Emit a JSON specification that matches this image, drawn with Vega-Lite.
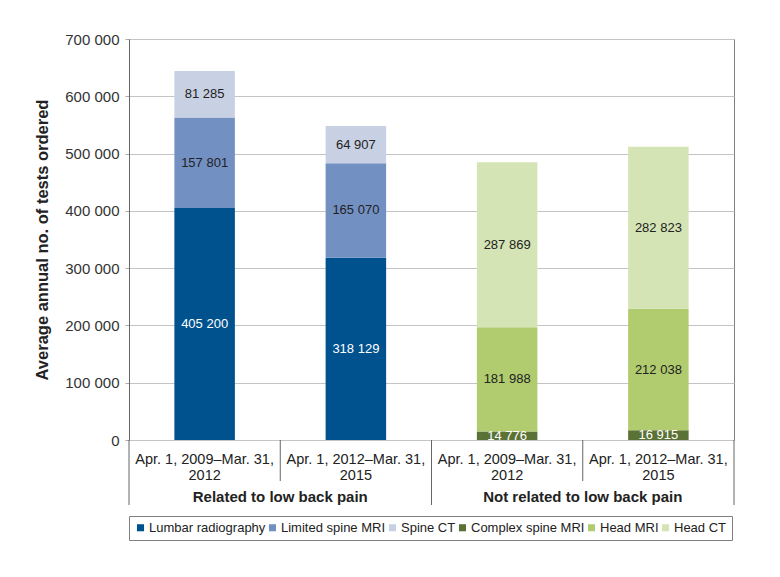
{
  "$schema": "https://vega.github.io/schema/vega-lite/v6.json",
  "background": "white",
  "padding": {"left": 34, "top": 31, "right": 10, "bottom": 10},
  "bounds": "flush",
  "config": {
    "font": "Liberation Sans",
    "locale": {"number": {"decimal": ".", "thousands": " ", "grouping": [3], "currency": ["", ""]}},
    "view": {"stroke": null},
    "concat": {"spacing": 0}
  },
  "datasets": {
    "bars": [
      {"bar": "R1", "test": "Lumbar radiography", "idx": 1, "value": 405200},
      {"bar": "R1", "test": "Limited spine MRI", "idx": 2, "value": 157801},
      {"bar": "R1", "test": "Spine CT", "idx": 3, "value": 81285},
      {"bar": "R2", "test": "Lumbar radiography", "idx": 1, "value": 318129},
      {"bar": "R2", "test": "Limited spine MRI", "idx": 2, "value": 165070},
      {"bar": "R2", "test": "Spine CT", "idx": 3, "value": 64907},
      {"bar": "N1", "test": "Complex spine MRI", "idx": 4, "value": 14776},
      {"bar": "N1", "test": "Head MRI", "idx": 5, "value": 181988},
      {"bar": "N1", "test": "Head CT", "idx": 6, "value": 287869},
      {"bar": "N2", "test": "Complex spine MRI", "idx": 4, "value": 16915},
      {"bar": "N2", "test": "Head MRI", "idx": 5, "value": 212038},
      {"bar": "N2", "test": "Head CT", "idx": 6, "value": 282823}
    ],
    "periods": [
      {"bar": "R1", "label": "Apr. 1, 2009–Mar. 31,\n2012"},
      {"bar": "R2", "label": "Apr. 1, 2012–Mar. 31,\n2015"},
      {"bar": "N1", "label": "Apr. 1, 2009–Mar. 31,\n2012"},
      {"bar": "N2", "label": "Apr. 1, 2012–Mar. 31,\n2015"}
    ],
    "groups": [
      {"bar": "R1", "group": "Related to low back pain"},
      {"bar": "N1", "group": "Not related to low back pain"}
    ]
  },
  "vconcat": [
    {
      "width": 605,
      "height": 401,
      "data": {"name": "bars"},
      "view": {"stroke": "#808080"},
      "encoding": {
        "x": {"field": "bar", "type": "nominal", "scale": {"type": "band", "domain": ["R1", "R2", "N1", "N2"], "paddingInner": 0, "paddingOuter": 0}, "axis": null}
      },
      "layer": [
        {
          "mark": {"type": "bar", "width": {"band": 0.4}},
          "encoding": {
            "y": {
              "field": "value", "type": "quantitative", "stack": "zero",
              "scale": {"domain": [0, 700000]},
              "axis": {
                "values": [0, 100000, 200000, 300000, 400000, 500000, 600000, 700000],
                "format": ",d",
                "title": "Average annual no. of tests ordered",
                "titleFontSize": 16.5, "titleFontWeight": "bold", "titleColor": "#222",
                "titlePadding": 14,
                "labelFontSize": 15, "labelColor": "#333", "labelPadding": 6,
                "tickSize": 4, "tickColor": "#aaaaaa",
                "gridColor": "#c4c4c4", "domainColor": "#666666"
              }
            },
            "color": {
              "field": "test", "type": "nominal",
              "scale": {
                "domain": ["Lumbar radiography", "Limited spine MRI", "Spine CT", "Complex spine MRI", "Head MRI", "Head CT"],
                "range": ["#00528f", "#7390c2", "#c8d0e3", "#5b7236", "#b0cc6e", "#d5e4b5"]
              },
              "legend": {
                "orient": "bottom", "direction": "horizontal", "columns": 6, "title": null,
                "symbolType": "square", "symbolSize": 50, "symbolStrokeWidth": 0,
                "labelFontSize": 13, "labelColor": "#222", "labelOffset": 2,
                "strokeColor": "#808080", "padding": 5, "columnPadding": 0, "offset": 10
              }
            },
            "order": {"field": "idx"}
          }
        },
        {
          "mark": {"type": "text", "fontSize": 13},
          "encoding": {
            "y": {"field": "value", "type": "quantitative", "stack": "zero", "bandPosition": 0.5},
            "detail": {"field": "test"},
            "order": {"field": "idx"},
            "text": {"field": "value", "type": "quantitative", "format": ",d"},
            "fill": {"condition": {"test": "datum.test === 'Lumbar radiography' || datum.test === 'Complex spine MRI'", "value": "white"}, "value": "#222222"}
          }
        }
      ]
    },
    {
      "width": 605,
      "height": 41,
      "data": {"name": "periods"},
      "layer": [
        {
          "mark": {"type": "text", "fontSize": 14.5, "lineBreak": "\n", "color": "#222", "dy": -1},
          "encoding": {
            "x": {"field": "bar", "type": "nominal", "scale": {"type": "band", "domain": ["R1", "R2", "N1", "N2"], "paddingInner": 0, "paddingOuter": 0}, "axis": null},
            "text": {"field": "label"}
          }
        },
        {
          "mark": {"type": "rule", "color": "#666666"},
          "encoding": {
            "x": {"field": "bar", "type": "nominal", "bandPosition": 0, "scale": {"type": "band", "domain": ["R1", "R2", "N1", "N2"], "paddingInner": 0, "paddingOuter": 0}, "axis": null}
          }
        },
        {
          "transform": [{"filter": "datum.bar === 'N2'"}],
          "mark": {"type": "rule", "color": "#666666"},
          "encoding": {
            "x": {"field": "bar", "type": "nominal", "bandPosition": 1, "scale": {"type": "band", "domain": ["R1", "R2", "N1", "N2"], "paddingInner": 0, "paddingOuter": 0}, "axis": null}
          }
        }
      ]
    },
    {
      "width": 605,
      "height": 24,
      "layer": [
        {
          "data": {"name": "groups"},
          "mark": {"type": "text", "fontSize": 15, "fontWeight": "bold", "color": "#222", "dy": 4},
          "encoding": {
            "x": {"field": "bar", "type": "nominal", "bandPosition": 1, "scale": {"type": "band", "domain": ["R1", "R2", "N1", "N2"], "paddingInner": 0, "paddingOuter": 0}, "axis": null},
            "text": {"field": "group"}
          }
        },
        {
          "data": {"name": "periods"},
          "transform": [{"filter": "datum.bar === 'R1' || datum.bar === 'N1'"}],
          "mark": {"type": "rule", "color": "#666666"},
          "encoding": {
            "x": {"field": "bar", "type": "nominal", "bandPosition": 0, "scale": {"type": "band", "domain": ["R1", "R2", "N1", "N2"], "paddingInner": 0, "paddingOuter": 0}, "axis": null}
          }
        },
        {
          "data": {"name": "periods"},
          "transform": [{"filter": "datum.bar === 'N2'"}],
          "mark": {"type": "rule", "color": "#666666"},
          "encoding": {
            "x": {"field": "bar", "type": "nominal", "bandPosition": 1, "scale": {"type": "band", "domain": ["R1", "R2", "N1", "N2"], "paddingInner": 0, "paddingOuter": 0}, "axis": null}
          }
        }
      ]
    }
  ]
}
